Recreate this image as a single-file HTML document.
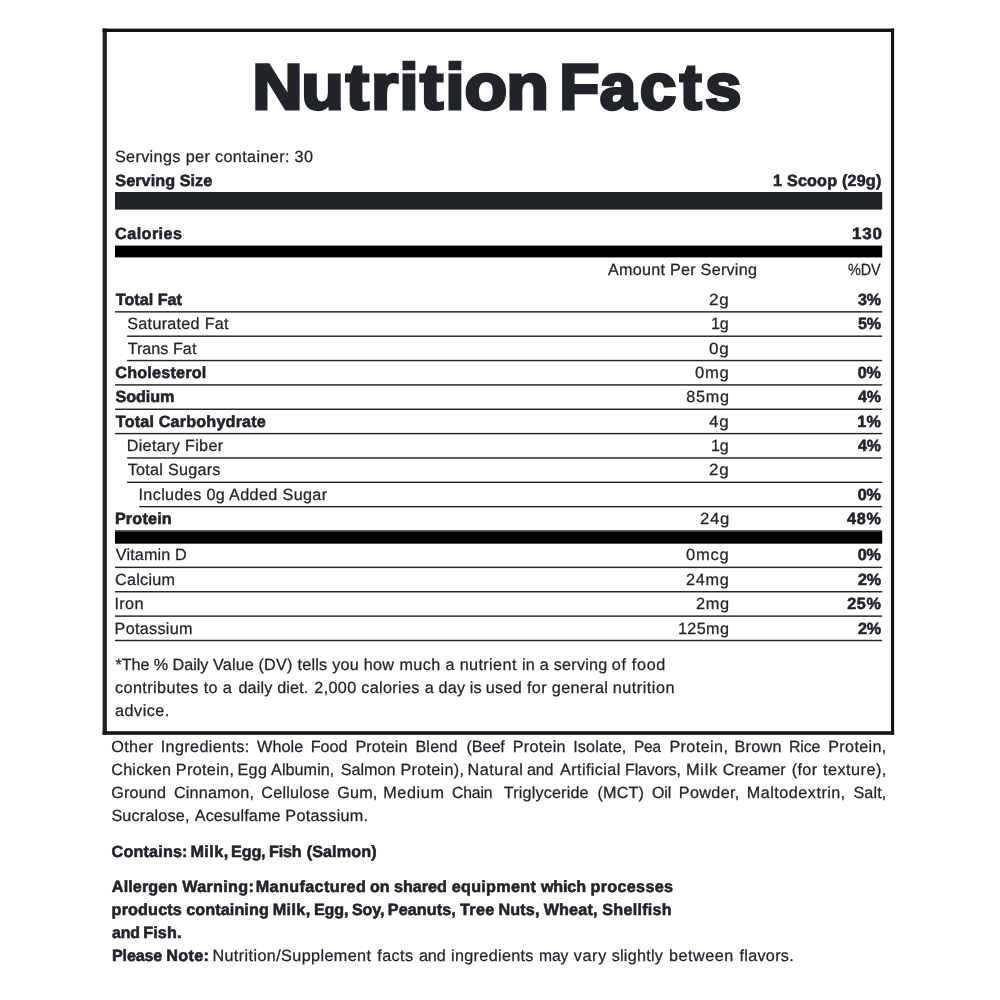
<!DOCTYPE html>
<html lang="en"><head><meta charset="utf-8"><title>Nutrition Facts</title>
<style>
html,body{margin:0;padding:0;background:#fff}
#page{position:relative;width:1000px;height:1000px;overflow:hidden;background:#fff;color:#212529;font-family:"Liberation Sans",sans-serif;font-size:16.2px;line-height:20px;text-rendering:geometricPrecision}
.t{position:absolute;white-space:pre;display:block;transform-origin:0 0;-webkit-text-stroke:0.25px #212529}
.b{font-weight:700;-webkit-text-stroke:0.55px #212529}
svg{position:absolute;left:0;top:0}
</style></head>
<body><div id="page">
<svg width="1000" height="1000" viewBox="0 0 1000 1000" shape-rendering="auto">
<rect x="102.6" y="28.6" width="4.3" height="706.2" fill="#212529"/>
<rect x="891" y="28.6" width="3.1" height="706.2" fill="#111418"/>
<rect x="102.6" y="28.6" width="791.5" height="3.4" fill="#111418"/>
<rect x="102.6" y="731.2" width="791.5" height="3.6" fill="#15181b"/>
<rect x="115" y="192.0" width="767.2" height="17.6" fill="#212529"/>
<rect x="115" y="245.6" width="767.2" height="11.8" fill="#000"/>
<rect x="115" y="531.5" width="767.2" height="12.2" fill="#000"/>
<rect x="115.0" y="311.13" width="767.2" height="1.45" fill="#212529"/>
<rect x="127.1" y="335.48" width="755.1" height="1.45" fill="#212529"/>
<rect x="127.1" y="359.83" width="755.1" height="1.45" fill="#212529"/>
<rect x="115.0" y="384.18" width="767.2" height="1.45" fill="#212529"/>
<rect x="115.0" y="408.53" width="767.2" height="1.45" fill="#212529"/>
<rect x="115.0" y="432.88" width="767.2" height="1.45" fill="#212529"/>
<rect x="127.1" y="457.23" width="755.1" height="1.45" fill="#212529"/>
<rect x="127.1" y="481.58" width="755.1" height="1.45" fill="#212529"/>
<rect x="139.3" y="505.93" width="742.9" height="1.45" fill="#212529"/>
<rect x="115.0" y="530.28" width="767.2" height="1.45" fill="#212529"/>
<rect x="115.0" y="566.64" width="767.2" height="1.45" fill="#212529"/>
<rect x="115.0" y="591.02" width="767.2" height="1.45" fill="#212529"/>
<rect x="115.0" y="615.40" width="767.2" height="1.45" fill="#212529"/>
<rect x="115.0" y="639.78" width="767.2" height="1.45" fill="#212529"/>
<text transform="scale(1.085,1)" x="232.38 277.69 318.63 341.87 368.04 387.02 410.44 428.07 466.66" y="109.30" font-family="Liberation Sans, sans-serif" font-weight="700" font-size="64.4" fill="#212529" stroke="#212529" stroke-width="3.0" stroke-linejoin="miter" text-rendering="geometricPrecision">Nutrition</text>
<text transform="scale(1.02,1)" x="548.38 587.90 627.17 666.53 691.30" y="109.30" font-family="Liberation Sans, sans-serif" font-weight="700" font-size="64.4" fill="#212529" stroke="#212529" stroke-width="3.0" stroke-linejoin="miter" text-rendering="geometricPrecision">Facts</text>
</svg>

<span class="t" style="left:114.89px;top:147px;letter-spacing:0.366px">Servings per container: 30</span>
<span class="t b" style="left:115.31px;top:171px;letter-spacing:0.064px">Serving Size</span>
<span class="t b" style="left:773.05px;top:171px;letter-spacing:0.178px">1 Scoop (29g)</span>
<span class="t b" style="left:115.11px;top:224px;letter-spacing:0.427px">Calories</span>
<span class="t b" style="left:851.92px;top:224px;letter-spacing:0.700px;transform:scaleX(1.0520)">130</span>
<span class="t" style="left:608.09px;top:260px;letter-spacing:0.233px">Amount Per Serving</span>
<span class="t" style="left:848.20px;top:260px;letter-spacing:-0.150px;transform:scaleX(0.8897)">%DV</span>
<span class="t b" style="left:115.79px;top:290px;letter-spacing:-0.015px">Total Fat</span>
<span class="t" style="left:709.27px;top:290px;letter-spacing:0.700px;transform:scaleX(1.0522)">2g</span>
<span class="t b" style="left:857.90px;top:290px;letter-spacing:-0.150px;transform:scaleX(0.9910)">3%</span>
<span class="t" style="left:127.29px;top:314px;letter-spacing:0.268px">Saturated Fat</span>
<span class="t" style="left:711.20px;top:314px;letter-spacing:-0.150px;transform:scaleX(0.9913)">1g</span>
<span class="t b" style="left:857.78px;top:314px;letter-spacing:-0.150px;transform:scaleX(0.9965)">5%</span>
<span class="t" style="left:127.66px;top:339px;letter-spacing:0.008px">Trans Fat</span>
<span class="t" style="left:709.16px;top:339px;letter-spacing:0.700px;transform:scaleX(1.0585)">0g</span>
<span class="t b" style="left:115.31px;top:363px;letter-spacing:0.190px">Cholesterol</span>
<span class="t" style="left:695.18px;top:363px;letter-spacing:0.700px;transform:scaleX(1.0263)">0mg</span>
<span class="t b" style="left:857.63px;top:363px;letter-spacing:-0.088px">0%</span>
<span class="t b" style="left:115.51px;top:387px;letter-spacing:-0.108px">Sodium</span>
<span class="t" style="left:686.32px;top:387px;letter-spacing:0.699px">85mg</span>
<span class="t b" style="left:858.03px;top:387px;letter-spacing:-0.150px;transform:scaleX(0.9856)">4%</span>
<span class="t b" style="left:115.79px;top:412px;letter-spacing:0.169px">Total Carbohydrate</span>
<span class="t" style="left:709.34px;top:412px;letter-spacing:0.700px;transform:scaleX(1.0485)">4g</span>
<span class="t b" style="left:857.25px;top:412px;letter-spacing:0.291px">1%</span>
<span class="t" style="left:126.70px;top:436px;letter-spacing:0.316px">Dietary Fiber</span>
<span class="t" style="left:711.20px;top:436px;letter-spacing:-0.150px;transform:scaleX(0.9913)">1g</span>
<span class="t b" style="left:858.03px;top:436px;letter-spacing:-0.150px;transform:scaleX(0.9856)">4%</span>
<span class="t" style="left:127.66px;top:460px;letter-spacing:0.256px">Total Sugars</span>
<span class="t" style="left:709.27px;top:460px;letter-spacing:0.700px;transform:scaleX(1.0522)">2g</span>
<span class="t" style="left:138.53px;top:485px;letter-spacing:0.350px">Includes 0g Added Sugar</span>
<span class="t b" style="left:857.63px;top:485px;letter-spacing:-0.088px">0%</span>
<span class="t b" style="left:114.89px;top:509px;letter-spacing:0.179px">Protein</span>
<span class="t" style="left:699.59px;top:509px;letter-spacing:0.700px;transform:scaleX(1.0333)">24g</span>
<span class="t b" style="left:847.03px;top:509px;letter-spacing:0.700px;transform:scaleX(1.0034)">48%</span>
<span class="t" style="left:115.85px;top:545px;letter-spacing:0.115px">Vitamin D</span>
<span class="t" style="left:686.28px;top:545px;letter-spacing:0.700px;transform:scaleX(1.0232)">0mcg</span>
<span class="t b" style="left:857.63px;top:545px;letter-spacing:-0.088px">0%</span>
<span class="t" style="left:115.10px;top:570px;letter-spacing:0.229px">Calcium</span>
<span class="t" style="left:686.11px;top:570px;letter-spacing:0.700px;transform:scaleX(1.0051)">24mg</span>
<span class="t b" style="left:857.71px;top:570px;letter-spacing:-0.150px;transform:scaleX(0.9992)">2%</span>
<span class="t" style="left:114.43px;top:594px;letter-spacing:0.397px">Iron</span>
<span class="t" style="left:695.70px;top:594px;letter-spacing:0.700px;transform:scaleX(1.0099)">2mg</span>
<span class="t b" style="left:847.21px;top:594px;letter-spacing:0.666px">25%</span>
<span class="t" style="left:114.60px;top:619px;letter-spacing:0.296px">Potassium</span>
<span class="t" style="left:677.89px;top:619px;letter-spacing:0.382px">125mg</span>
<span class="t b" style="left:857.71px;top:619px;letter-spacing:-0.150px;transform:scaleX(0.9992)">2%</span>
<span class="t" style="left:115.46px;top:655px;letter-spacing:-0.065px">*The % Daily</span>
<span class="t" style="left:213.05px;top:655px;letter-spacing:0.140px">Value (DV)</span>
<span class="t" style="left:297.48px;top:655px;letter-spacing:0.231px">tells you how</span>
<span class="t" style="left:399.45px;top:655px;letter-spacing:0.383px">much a nutrient</span>
<span class="t" style="left:522.04px;top:655px;letter-spacing:0.227px">in a serving</span>
<span class="t" style="left:611.84px;top:655px;letter-spacing:0.660px">of food</span>
<span class="t" style="left:115.04px;top:678px;letter-spacing:0.410px">contributes to a</span>
<span class="t" style="left:238.44px;top:678px;letter-spacing:0.152px">daily diet.</span>
<span class="t" style="left:314.31px;top:678px;letter-spacing:0.335px">2,000 calories</span>
<span class="t" style="left:424.84px;top:678px;letter-spacing:0.147px">a day is</span>
<span class="t" style="left:485.67px;top:678px;letter-spacing:0.352px">used for general</span>
<span class="t" style="left:612.65px;top:678px;letter-spacing:0.536px">nutrition</span>
<span class="t" style="left:115.04px;top:701px;letter-spacing:0.503px">advice.</span>
<span class="t" style="left:111.36px;top:737px;letter-spacing:0.322px">Other</span>
<span class="t" style="left:160.63px;top:737px;letter-spacing:0.375px">Ingredients:</span>
<span class="t" style="left:257.05px;top:737px;letter-spacing:0.063px">Whole</span>
<span class="t" style="left:310.80px;top:737px;letter-spacing:-0.061px">Food</span>
<span class="t" style="left:355.40px;top:737px;letter-spacing:0.139px">Protein</span>
<span class="t" style="left:415.40px;top:737px;letter-spacing:0.179px">Blend</span>
<span class="t" style="left:466.52px;top:737px;letter-spacing:-0.093px">(Beef</span>
<span class="t" style="left:512.80px;top:737px;letter-spacing:0.239px">Protein</span>
<span class="t" style="left:573.23px;top:737px;letter-spacing:0.128px">Isolate,</span>
<span class="t" style="left:633.86px;top:737px;letter-spacing:-0.150px;transform:scaleX(0.9477)">Pea</span>
<span class="t" style="left:669.40px;top:737px;letter-spacing:0.391px">Protein,</span>
<span class="t" style="left:734.40px;top:737px;letter-spacing:0.310px">Brown</span>
<span class="t" style="left:788.82px;top:737px;letter-spacing:-0.150px;transform:scaleX(0.9820)">Rice</span>
<span class="t" style="left:828.20px;top:737px;letter-spacing:0.334px">Protein,</span>
<span class="t" style="left:111.30px;top:760px;letter-spacing:0.190px">Chicken</span>
<span class="t" style="left:175.80px;top:760px;letter-spacing:0.334px">Protein,</span>
<span class="t" style="left:237.40px;top:760px;letter-spacing:0.355px">Egg</span>
<span class="t" style="left:271.09px;top:760px;letter-spacing:0.036px">Albumin,</span>
<span class="t" style="left:340.69px;top:760px;letter-spacing:-0.011px">Salmon</span>
<span class="t" style="left:400.40px;top:760px;letter-spacing:0.306px">Protein),</span>
<span class="t" style="left:467.60px;top:760px;letter-spacing:0.529px">Natural</span>
<span class="t" style="left:527.44px;top:760px;letter-spacing:-0.150px;transform:scaleX(0.9908)">and</span>
<span class="t" style="left:560.09px;top:760px;letter-spacing:0.399px">Artificial</span>
<span class="t" style="left:624.81px;top:760px;letter-spacing:-0.150px;transform:scaleX(0.9890)">Flavors,</span>
<span class="t" style="left:685.58px;top:760px;letter-spacing:0.700px;transform:scaleX(1.0125)">Milk</span>
<span class="t" style="left:722.70px;top:760px;letter-spacing:0.012px">Creamer</span>
<span class="t" style="left:791.72px;top:760px;letter-spacing:0.381px">(for</span>
<span class="t" style="left:822.88px;top:760px;letter-spacing:0.508px">texture),</span>
<span class="t" style="left:111.31px;top:783px;letter-spacing:0.122px">Ground</span>
<span class="t" style="left:173.90px;top:783px;letter-spacing:0.216px">Cinnamon,</span>
<span class="t" style="left:261.30px;top:783px;letter-spacing:0.212px">Cellulose</span>
<span class="t" style="left:337.31px;top:783px;letter-spacing:0.147px">Gum,</span>
<span class="t" style="left:383.20px;top:783px;letter-spacing:0.634px">Medium</span>
<span class="t" style="left:452.32px;top:783px;letter-spacing:-0.150px;transform:scaleX(0.9732)">Chain</span>
<span class="t" style="left:503.76px;top:783px;letter-spacing:0.161px">Triglyceride</span>
<span class="t" style="left:597.52px;top:783px;letter-spacing:0.129px">(MCT)</span>
<span class="t" style="left:652.37px;top:783px;letter-spacing:-0.150px;transform:scaleX(0.9835)">Oil</span>
<span class="t" style="left:678.80px;top:783px;letter-spacing:0.339px">Powder,</span>
<span class="t" style="left:746.80px;top:783px;letter-spacing:0.489px">Maltodextrin,</span>
<span class="t" style="left:853.39px;top:783px;letter-spacing:0.134px">Salt,</span>
<span class="t" style="left:111.39px;top:806px;letter-spacing:0.184px">Sucralose,</span>
<span class="t" style="left:194.69px;top:806px;letter-spacing:0.147px">Acesulfame</span>
<span class="t" style="left:285.30px;top:806px;letter-spacing:0.309px">Potassium.</span>
<span class="t b" style="left:111.61px;top:842px;letter-spacing:0.154px">Contains:</span>
<span class="t b" style="left:190.39px;top:842px;letter-spacing:0.458px">Milk,</span>
<span class="t b" style="left:230.79px;top:842px;letter-spacing:-0.150px;transform:scaleX(0.9997)">Egg,</span>
<span class="t b" style="left:268.60px;top:842px;letter-spacing:-0.150px;transform:scaleX(0.9938)">Fish</span>
<span class="t b" style="left:306.67px;top:842px;letter-spacing:0.088px">(Salmon)</span>
<span class="t b" style="left:111.87px;top:877px;letter-spacing:0.097px">Allergen</span>
<span class="t b" style="left:182.26px;top:877px;letter-spacing:0.297px">Warning:</span>
<span class="t b" style="left:255.79px;top:877px;letter-spacing:0.351px">Manufactured</span>
<span class="t b" style="left:370.24px;top:877px;letter-spacing:-0.150px;transform:scaleX(0.9922)">on</span>
<span class="t b" style="left:394.11px;top:877px;letter-spacing:-0.081px">shared</span>
<span class="t b" style="left:451.64px;top:877px;letter-spacing:0.305px">equipment</span>
<span class="t b" style="left:541.32px;top:877px;letter-spacing:-0.150px;transform:scaleX(0.9940)">which</span>
<span class="t b" style="left:590.61px;top:877px;letter-spacing:0.286px">processes</span>
<span class="t b" style="left:111.61px;top:900px;letter-spacing:0.133px">products</span>
<span class="t b" style="left:186.24px;top:900px;letter-spacing:0.080px">containing</span>
<span class="t b" style="left:272.79px;top:900px;letter-spacing:0.358px">Milk,</span>
<span class="t b" style="left:313.80px;top:900px;letter-spacing:-0.150px;transform:scaleX(0.9936)">Egg,</span>
<span class="t b" style="left:351.81px;top:900px;letter-spacing:-0.150px;transform:scaleX(0.9958)">Soy,</span>
<span class="t b" style="left:387.79px;top:900px;letter-spacing:0.076px">Peanuts,</span>
<span class="t b" style="left:460.09px;top:900px;letter-spacing:0.291px">Tree</span>
<span class="t b" style="left:498.59px;top:900px;letter-spacing:0.087px">Nuts,</span>
<span class="t b" style="left:543.66px;top:900px;letter-spacing:0.137px">Wheat,</span>
<span class="t b" style="left:602.21px;top:900px;letter-spacing:0.257px">Shellfish</span>
<span class="t b" style="left:111.80px;top:923px;letter-spacing:-0.150px;transform:scaleX(0.9822)">and</span>
<span class="t b" style="left:143.19px;top:923px;letter-spacing:0.117px">Fish.</span>
<span class="t b" style="left:111.60px;top:946px;letter-spacing:-0.150px;transform:scaleX(0.9944)">Please</span>
<span class="t b" style="left:166.19px;top:946px;letter-spacing:0.329px">Note:</span>
<span class="t" style="left:212.40px;top:946px;letter-spacing:0.391px">Nutrition/Supplement</span>
<span class="t" style="left:377.30px;top:946px;letter-spacing:0.394px">facts</span>
<span class="t" style="left:418.84px;top:946px;letter-spacing:-0.150px;transform:scaleX(0.9987)">and</span>
<span class="t" style="left:451.04px;top:946px;letter-spacing:0.322px">ingredients</span>
<span class="t" style="left:538.58px;top:946px;letter-spacing:-0.150px;transform:scaleX(0.9682)">may</span>
<span class="t" style="left:573.67px;top:946px;letter-spacing:0.681px">vary</span>
<span class="t" style="left:611.67px;top:946px;letter-spacing:0.250px">slightly</span>
<span class="t" style="left:669.08px;top:946px;letter-spacing:0.507px">between</span>
<span class="t" style="left:739.50px;top:946px;letter-spacing:0.296px">flavors.</span>

</div></body></html>
